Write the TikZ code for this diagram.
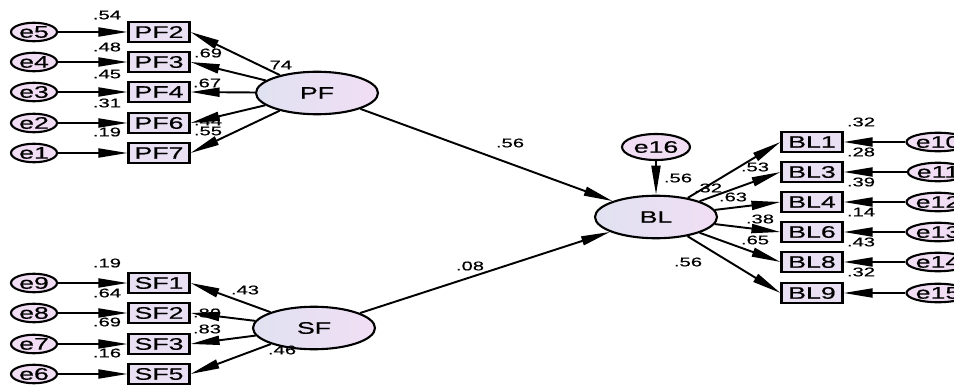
\documentclass[tikz,border=0pt]{standalone}
\usepackage{fontspec}
\setmainfont{Liberation Sans}[FakeStretch=1.6, FakeBold=0.6]
\usetikzlibrary{arrows.meta, shapes.geometric}

\definecolor{obsfill}{RGB}{234,224,243}
\definecolor{latleft}{RGB}{224,226,241}
\definecolor{latright}{RGB}{241,222,244}

\begin{document}
\begin{tikzpicture}[x=0.02cm, y=-0.02cm,
  obs/.style={draw, line width=1.2pt, fill=obsfill, minimum width=1.22cm,
    minimum height=0.41cm, inner sep=0pt, font=\fontsize{9.5}{9.5}\selectfont},
  lat/.style={draw, line width=1.2pt, ellipse, left color=latleft,
    right color=latright, minimum width=2.44cm, minimum height=0.85cm,
    inner sep=0pt, font=\fontsize{9.5}{9.5}\selectfont},
  err/.style={draw, line width=1.2pt, ellipse, fill=latright,
    minimum width=0.92cm, minimum height=0.37cm, inner sep=0pt,
    font=\fontsize{9.5}{9.5}\selectfont},
  arr/.style={line width=1.1pt, -{Triangle[length=0.58cm, width=0.18cm]}},
  lbl/.style={font=\fontsize{7.2}{7.2}\selectfont, inner sep=0pt}
]
\useasboundingbox (0, 0) rectangle (954, 385);
\clip (0, 0) rectangle (954, 385);

% latent factors
\node[lat] (PF) at (317, 93) {PF};
\node[lat] (SF) at (314, 328) {SF};
\node[lat] (BL) at (656, 217) {BL};
\node[err, minimum width=1.36cm, minimum height=0.52cm] (e16) at (656, 147) {e16};

% PF block
\node[obs] (PF2) at (159, 32) {PF2};
\node[obs] (PF3) at (159, 62) {PF3};
\node[obs] (PF4) at (159, 92) {PF4};
\node[obs] (PF6) at (159, 123) {PF6};
\node[obs] (PF7) at (159, 153) {PF7};
\node[err] (e5) at (34, 32) {e5};
\node[err] (e4) at (34, 62) {e4};
\node[err] (e3) at (34, 92) {e3};
\node[err] (e2) at (34, 123) {e2};
\node[err] (e1) at (34, 153) {e1};

% SF block
\node[obs] (SF1) at (159, 283) {SF1};
\node[obs] (SF2) at (159, 313) {SF2};
\node[obs] (SF3) at (159, 344) {SF3};
\node[obs] (SF5) at (159, 374) {SF5};
\node[err] (e9) at (34, 283) {e9};
\node[err] (e8) at (34, 313) {e8};
\node[err] (e7) at (34, 344) {e7};
\node[err] (e6) at (34, 374) {e6};

% BL block
\node[obs] (BL1) at (812, 142) {BL1};
\node[obs] (BL3) at (812, 172) {BL3};
\node[obs] (BL4) at (812, 202) {BL4};
\node[obs] (BL6) at (812, 232) {BL6};
\node[obs] (BL8) at (812, 262) {BL8};
\node[obs] (BL9) at (812, 293) {BL9};
\node[err] (e10) at (938, 142) {e10};
\node[err] (e11) at (938, 172) {e11};
\node[err] (e12) at (938, 202) {e12};
\node[err] (e13) at (938, 232) {e13};
\node[err] (e14) at (938, 262) {e14};
\node[err] (e15) at (938, 293) {e15};

% arrows
\draw[arr] (e5) -- (PF2);
\draw[arr] (e4) -- (PF3);
\draw[arr] (e3) -- (PF4);
\draw[arr] (e2) -- (PF6);
\draw[arr] (e1) -- (PF7);
\draw[arr] (PF) -- (PF2.east);
\draw[arr] (PF) -- (PF3.east);
\draw[arr] (PF) -- (PF4.east);
\draw[arr] (PF) -- (PF6.east);
\draw[arr] (PF) -- (PF7.east);
\draw[arr] (e9) -- (SF1);
\draw[arr] (e8) -- (SF2);
\draw[arr] (e7) -- (SF3);
\draw[arr] (e6) -- (SF5);
\draw[arr] (SF) -- (SF1.east);
\draw[arr] (SF) -- (SF2.east);
\draw[arr] (SF) -- (SF3.east);
\draw[arr] (SF) -- (SF5.east);
\draw[arr] (PF) -- (BL);
\draw[arr] (SF) -- (BL);
\draw[arr] (e16) -- (BL);
\draw[arr] (BL) -- (BL1.west);
\draw[arr] (BL) -- (BL3.west);
\draw[arr] (BL) -- (BL4.west);
\draw[arr] (BL) -- (BL6.west);
\draw[arr] (BL) -- (BL8.west);
\draw[arr] (BL) -- (BL9.west);
\draw[arr] (e10) -- (BL1);
\draw[arr] (e11) -- (BL3);
\draw[arr] (e12) -- (BL4);
\draw[arr] (e13) -- (BL6);
\draw[arr] (e14) -- (BL8);
\draw[arr] (e15) -- (BL9);

% estimates
\node[lbl] (r1) at (107, 15) {.54};
\node[lbl] (r2) at (107, 47) {.48};
\node[lbl] (r3) at (107, 74) {.45};
\node[lbl] (r4) at (107, 103) {.31};
\node[lbl] (r5) at (107, 132) {.19};
\node[lbl] (l1) at (208, 53) {.69};
\node[lbl] (l2) at (278, 65) {.74};
\node[lbl] (l3) at (207, 83) {.67};
\node[lbl] (l4) at (208, 121) {.44};
\node[lbl] (l5) at (208, 131) {.55};
\node[lbl] (r6) at (107, 263) {.19};
\node[lbl] (r7) at (107, 293) {.64};
\node[lbl] (r8) at (107, 322) {.69};
\node[lbl] (r9) at (107, 353) {.16};
\node[lbl] (l6) at (245, 290) {.43};
\node[lbl] (l7) at (207, 313) {.80};
\node[lbl] (l8) at (207, 329) {.83};
\node[lbl] (l9) at (282, 350) {.46};
\node[lbl] (g1) at (510, 143) {.56};
\node[lbl] (g2) at (470, 266) {.08};
\node[lbl] (g3) at (678, 178) {.56};
\node[lbl] (b1) at (755, 167) {.53};
\node[lbl] (b2) at (708, 188) {.32};
\node[lbl] (b3) at (733, 197) {.63};
\node[lbl] (b4) at (760, 219) {.38};
\node[lbl] (b5) at (755, 240) {.65};
\node[lbl] (b6) at (688, 262) {.56};
\node[lbl] (s1) at (861, 122) {.32};
\node[lbl] (s2) at (861, 152) {.28};
\node[lbl] (s3) at (861, 182) {.39};
\node[lbl] (s4) at (861, 212) {.14};
\node[lbl] (s5) at (861, 242) {.43};
\node[lbl] (s6) at (861, 272) {.32};
\end{tikzpicture}
\end{document}
